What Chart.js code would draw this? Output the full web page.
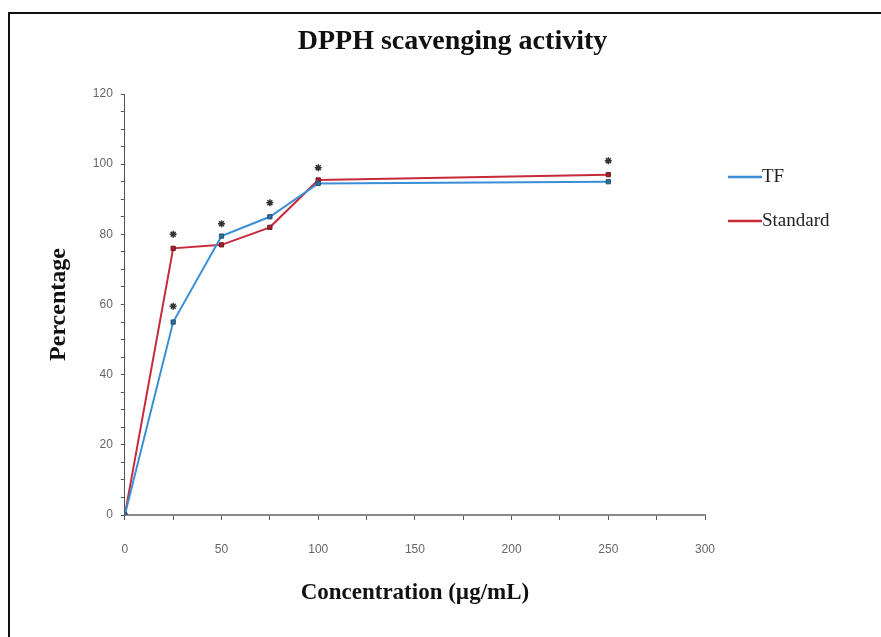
<!DOCTYPE html>
<html>
<head>
<meta charset="utf-8">
<script src="https://cdn.jsdelivr.net/npm/chart.js@4.4.0/dist/chart.umd.min.js"></script>
<style>
  html, body { margin: 0; padding: 0; background: #fff; overflow: hidden; }
  #frame {
    position: absolute; left: 8px; top: 12px;
    width: 900px; height: 650px;
    border: 2px solid #111;
    background: #fff;
  }
  #wrap { position: absolute; left: 0; top: 0; width: 871px; height: 623px; }
</style>
</head>
<body>
<div id="frame">
  <div id="wrap"><canvas id="dpphChart"></canvas></div>
</div>
<script>
// valori
const concentrations = [0, 25, 50, 75, 100, 250]
const tfValues = [0, 55, 79.5, 85, 94.5, 95]
const standardValues = [0, 76, 77, 82, 95.5, 97]

// asterischi di significativita
const starX = [25, 25, 50, 75, 100, 250]
const starY = [80, 59.5, 83, 89, 99, 101]

const chartTitle = 'DPPH scavenging activity'

const toPoints = (xs, ys) => xs.map((x, i) => ({ x: x, y: ys[i] }))

const serif = '"Liberation Serif", "Times New Roman", serif'
const sans = '"Liberation Sans", Arial, sans-serif'

// titolo centrato su tutta la larghezza + legenda a destra
const decorations = {
  id: 'decorations',
  afterDraw(chart) {
    const c = chart.ctx
    const area = chart.chartArea
    c.save()
    c.fillStyle = '#111'
    c.font = 'bold 28px ' + serif
    c.textAlign = 'center'
    c.textBaseline = 'middle'
    c.fillText(chartTitle, chart.width / 2 + 7, 28)

    const items = chart.data.datasets.filter((d) => d.label !== 'stars')
    c.font = '19px ' + serif
    c.textAlign = 'left'
    items.forEach((d, i) => {
      const y = area.top + 83 + i * 44
      c.strokeStyle = d.borderColor
      c.lineWidth = 2.5
      c.beginPath()
      c.moveTo(area.right + 23, y)
      c.lineTo(area.right + 57, y)
      c.stroke()
      c.fillStyle = '#222'
      c.fillText(d.label, area.right + 57, y)
    })
    c.restore()
  },
}

const ctx = document.getElementById('dpphChart').getContext('2d')

const dpphChart = new Chart(ctx, {
  type: 'scatter',
  data: {
    datasets: [
      {
        label: 'TF',
        data: toPoints(concentrations, tfValues),
        showLine: true,
        borderColor: '#3a8fd6',
        backgroundColor: '#3a8fd6',
        borderWidth: 2,
        pointStyle: 'rect',
        pointRadius: 3,
        pointBackgroundColor: '#2f6f9e',
        pointBorderColor: '#24506f',
        pointBorderWidth: 1,
      },
      {
        label: 'Standard',
        data: toPoints(concentrations, standardValues),
        showLine: true,
        borderColor: '#c62a3b',
        backgroundColor: '#c62a3b',
        borderWidth: 2,
        pointStyle: 'rect',
        pointRadius: 3,
        pointBackgroundColor: '#a3222f',
        pointBorderColor: '#6e1a22',
        pointBorderWidth: 1,
      },
      {
        label: 'stars',
        data: toPoints(starX, starY),
        showLine: false,
        pointStyle: 'star',
        pointRadius: 3.5,
        pointBorderColor: '#333',
        pointBackgroundColor: '#333',
        pointBorderWidth: 1.5,
      },
    ],
  },
  options: {
    responsive: true,
    maintainAspectRatio: false,
    animation: false,
    layout: {
      padding: { left: 30, right: 176, top: 80, bottom: 26 },
    },
    plugins: {
      title: { display: false },
      legend: { display: false },
      tooltip: { enabled: false },
    },
    scales: {
      x: {
        type: 'linear',
        min: 0,
        max: 300,
        ticks: {
          stepSize: 25,
          color: '#666',
          font: { family: sans, size: 12 },
          padding: 22,
          callback: (v) => (v % 50 === 0 ? v : ''),
        },
        grid: {
          drawOnChartArea: false,
          drawTicks: true,
          tickLength: 5,
          color: '#555',
        },
        border: { color: '#888', width: 2 },
        title: {
          display: true,
          text: 'Concentration (µg/mL)',
          color: '#111',
          font: { family: serif, size: 23, weight: 'bold' },
          padding: { top: 1 },
        },
      },
      y: {
        min: 0,
        max: 120,
        ticks: {
          stepSize: 5,
          color: '#666',
          font: { family: sans, size: 12 },
          padding: 8,
          autoSkip: false,
          callback: (v) => (v % 20 === 0 ? v : ''),
        },
        grid: {
          drawOnChartArea: false,
          drawTicks: true,
          tickLength: 4,
          color: '#555',
        },
        border: { color: '#555', width: 1 },
        title: {
          display: true,
          text: 'Percentage',
          color: '#111',
          font: { family: serif, size: 24, weight: 'bold' },
          padding: { bottom: 12 },
        },
      },
    },
  },
  plugins: [decorations],
})
</script>
</body>
</html>
